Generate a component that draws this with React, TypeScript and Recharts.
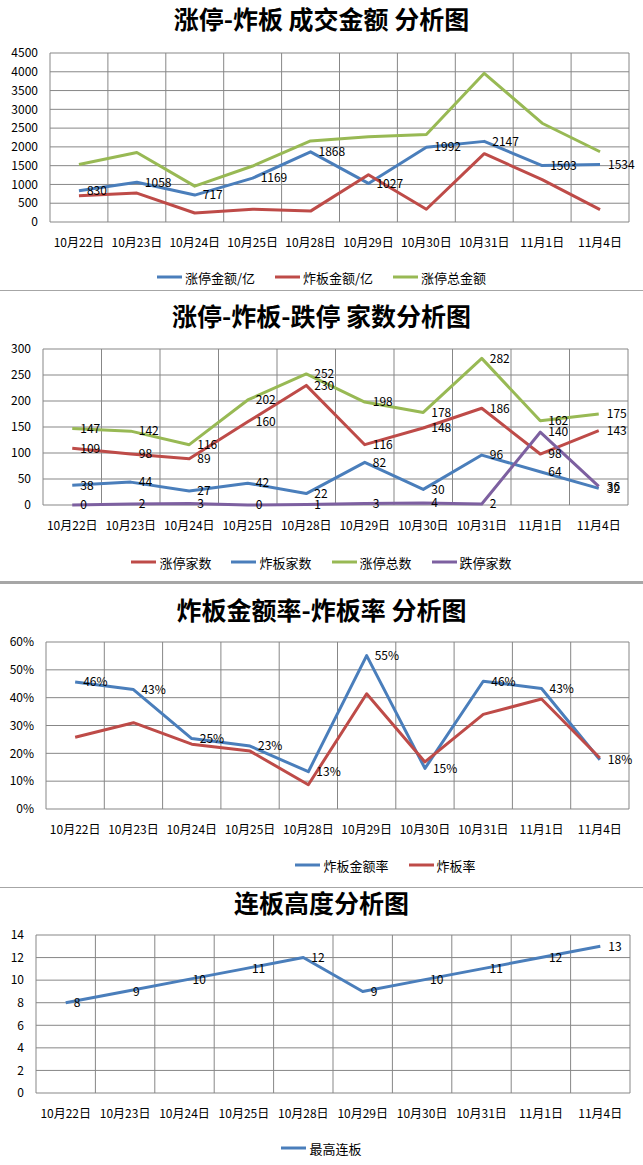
import React from 'react';
import { LineChart, Line, XAxis, YAxis, CartesianGrid, Legend, LabelList } from 'recharts';

// categories
const DATES = ['10月22日', '10月23日', '10月24日', '10月25日', '10月28日', '10月29日', '10月30日', '10月31日', '11月1日', '11月4日'];

// chart 1: 成交金额
const ZT_AMT = [830, 1058, 717, 1169, 1868, 1027, 1992, 2147, 1503, 1534];
const ZB_AMT = [700, 770, 240, 340, 290, 1260, 340, 1820, 1130, 330];
const ZT_TOTAL_AMT = [1530, 1850, 955, 1490, 2160, 2270, 2330, 3960, 2630, 1870];

// chart 2: 家数
const ZT_CNT = [109, 98, 89, 160, 230, 116, 148, 186, 98, 143];
const ZB_CNT = [38, 44, 27, 42, 22, 82, 30, 96, 64, 32];
const ZT_TOTAL = [147, 142, 116, 202, 252, 198, 178, 282, 162, 175];
const DT_CNT = [0, 2, 3, 0, 1, 3, 4, 2, 140, 36];

// chart 3: 率 (%)
const ZB_AMT_RATE = [45.6, 42.9, 25.3, 22.6, 13.4, 55.1, 14.6, 45.9, 43.3, 17.7];
const ZB_RATE = [25.8, 31.0, 23.3, 20.8, 8.7, 41.4, 16.9, 34.0, 39.5, 18.3];

// chart 4: 连板高度
const LB = [8, 9, 10, 11, 12, 9, 10, 11, 12, 13];

const TICKS_1 = [0, 500, 1000, 1500, 2000, 2500, 3000, 3500, 4000, 4500];
const TICKS_2 = [0, 50, 100, 150, 200, 250, 300];
const TICKS_3 = [0, 10, 20, 30, 40, 50, 60];
const TICKS_4 = [0, 2, 4, 6, 8, 10, 12, 14];

const IDX = DATES.map((_, i) => i);
const BOUNDS = [...IDX.map((i) => i - 0.5), DATES.length - 0.5];

const FONT = '"Noto Sans CJK SC", "Noto Sans", sans-serif';
const GRID = '#878787';
const BLUE = '#4A7EBB';
const RED = '#BE4B48';
const GREEN = '#98B954';
const PURPLE = '#7D60A0';

const data1 = DATES.map((d, i) => ({ i, a: ZT_AMT[i], b: ZB_AMT[i], c: ZT_TOTAL_AMT[i] }));
const data2 = DATES.map((d, i) => ({ i, a: ZT_CNT[i], b: ZB_CNT[i], c: ZT_TOTAL[i], d: DT_CNT[i] }));
const data3 = DATES.map((d, i) => ({ i, a: ZB_AMT_RATE[i], b: ZB_RATE[i] }));
const data4 = DATES.map((d, i) => ({ i, a: LB[i] }));

type Series = { key: string; name: string; color: string; label?: boolean };

// legend keeps the series order instead of recharts' sorted one
const makeLegend = (shift: number, series: Series[]) => ({ payload }: any) => {
  const items = [...(payload || [])].sort(
    (x: any, y: any) => series.findIndex((s) => s.name === x.value) - series.findIndex((s) => s.name === y.value)
  );
  return (
    <div
      style={{
        display: 'flex',
        justifyContent: 'center',
        alignItems: 'center',
        gap: 20,
        paddingLeft: shift,
        height: 22,
        fontSize: 13,
        fontFamily: FONT,
        color: '#000',
      }}
    >
      {items.map((p: any) => (
        <div key={p.value} style={{ display: 'flex', alignItems: 'center' }}>
          <svg width={25} height={4}>
            <line x1={0} y1={2} x2={25} y2={2} stroke={p.color} strokeWidth={3} />
          </svg>
          <span style={{ marginLeft: 3 }}>{p.value}</span>
        </div>
      ))}
    </div>
  );
};

interface PanelProps {
  top: number;
  height: number;
  title: string;
  titleY: number;
  data: any[];
  series: Series[];
  plotTop: number;
  plotH: number;
  yWidth: number;
  right: number;
  yDomain: number[];
  yTicks: number[];
  fmt?: (v: number) => string;
  legendShift: number;
  legendBottom: number;
}

function Panel(p: PanelProps) {
  const xh = p.height - p.plotTop - p.plotH - 22 - p.legendBottom;
  const tickStyle = { fontSize: 12, fill: '#000', fontFamily: FONT };
  return (
    <div style={{ position: 'absolute', left: 0, top: p.top, width: 643, height: p.height }}>
      <LineChart
        width={643}
        height={p.height}
        data={p.data}
        margin={{ top: p.plotTop, right: p.right, left: 0, bottom: p.legendBottom }}
      >
        <CartesianGrid stroke={GRID} verticalValues={BOUNDS} />
        <XAxis
          dataKey="i"
          type="number"
          domain={[-0.5, DATES.length - 0.5]}
          allowDataOverflow
          ticks={IDX}
          interval={0}
          tickFormatter={(v: number) => DATES[v]}
          height={xh}
          tickSize={0}
          tickMargin={16}
          axisLine={false}
          tick={tickStyle}
        />
        <YAxis
          type="number"
          domain={p.yDomain}
          ticks={p.yTicks}
          interval={0}
          width={p.yWidth}
          tickSize={0}
          tickMargin={12}
          axisLine={false}
          tickFormatter={p.fmt}
          tick={tickStyle}
        />
        <Legend
          verticalAlign="bottom"
          height={22}
          wrapperStyle={{ left: 0, width: 643 }}
          content={makeLegend(p.legendShift, p.series)}
        />
        {p.series.map((s) => (
          <Line
            key={s.key}
            dataKey={s.key}
            name={s.name}
            stroke={s.color}
            strokeWidth={3}
            dot={false}
            activeDot={false}
            isAnimationActive={false}
            strokeLinejoin="round"
          >
            {s.label ? (
              <LabelList
                dataKey={s.key}
                position="right"
                offset={8}
                formatter={p.fmt}
                style={{ fontSize: 12, fill: '#000', fontFamily: FONT }}
              />
            ) : null}
          </Line>
        ))}
      </LineChart>
      <div
        style={{
          position: 'absolute',
          left: 0,
          top: p.titleY - p.top - 16,
          width: 643,
          height: 32,
          lineHeight: '32px',
          textAlign: 'center',
          fontFamily: FONT,
          fontWeight: 700,
          fontSize: 25,
          color: '#000',
          whiteSpace: 'pre',
        }}
      >
        {p.title}
      </div>
    </div>
  );
}

const pct = (v: number) => `${Math.round(v)}%`;

export default function App() {
  return (
    <div style={{ position: 'absolute', left: 0, top: 0, width: 643, height: 1165, background: '#fff', overflow: 'hidden' }}>
      <Panel
        top={0}
        height={290}
        title="涨停-炸板 成交金额 分析图"
        titleY={18}
        data={data1}
        series={[
          { key: 'a', name: '涨停金额/亿', color: BLUE, label: true },
          { key: 'b', name: '炸板金额/亿', color: RED },
          { key: 'c', name: '涨停总金额', color: GREEN },
        ]}
        plotTop={53}
        plotH={169}
        yWidth={50}
        right={14}
        yDomain={[0, 4500]}
        yTicks={TICKS_1}
        legendShift={0}
        legendBottom={2}
      />
      <Panel
        top={290}
        height={293}
        title="涨停-炸板-跌停 家数分析图"
        titleY={315}
        data={data2}
        series={[
          { key: 'a', name: '涨停家数', color: RED, label: true },
          { key: 'b', name: '炸板家数', color: BLUE, label: true },
          { key: 'c', name: '涨停总数', color: GREEN, label: true },
          { key: 'd', name: '跌停家数', color: PURPLE, label: true },
        ]}
        plotTop={59}
        plotH={156}
        yWidth={43}
        right={15}
        yDomain={[0, 300]}
        yTicks={TICKS_2}
        legendShift={0}
        legendBottom={10}
      />
      <Panel
        top={585}
        height={302}
        title="炸板金额率-炸板率 分析图"
        titleY={609}
        data={data3}
        series={[
          { key: 'a', name: '炸板金额率', color: BLUE, label: true },
          { key: 'b', name: '炸板率', color: RED },
        ]}
        plotTop={57}
        plotH={167}
        yWidth={46}
        right={14}
        yDomain={[0, 60]}
        yTicks={TICKS_3}
        fmt={pct}
        legendShift={128}
        legendBottom={11}
      />
      <Panel
        top={888}
        height={277}
        title="连板高度分析图"
        titleY={902}
        data={data4}
        series={[{ key: 'a', name: '最高连板', color: BLUE, label: true }]}
        plotTop={47}
        plotH={158}
        yWidth={36}
        right={13}
        yDomain={[0, 14]}
        yTicks={TICKS_4}
        legendShift={0}
        legendBottom={6}
      />
      <div style={{ position: 'absolute', left: 0, top: 290, width: 643, height: 1, background: '#A6A6A6' }} />
      <div style={{ position: 'absolute', left: 0, top: 581, width: 643, height: 3, background: '#A6A6A6' }} />
      <div style={{ position: 'absolute', left: 0, top: 887, width: 643, height: 1, background: '#A6A6A6' }} />
    </div>
  );
}
